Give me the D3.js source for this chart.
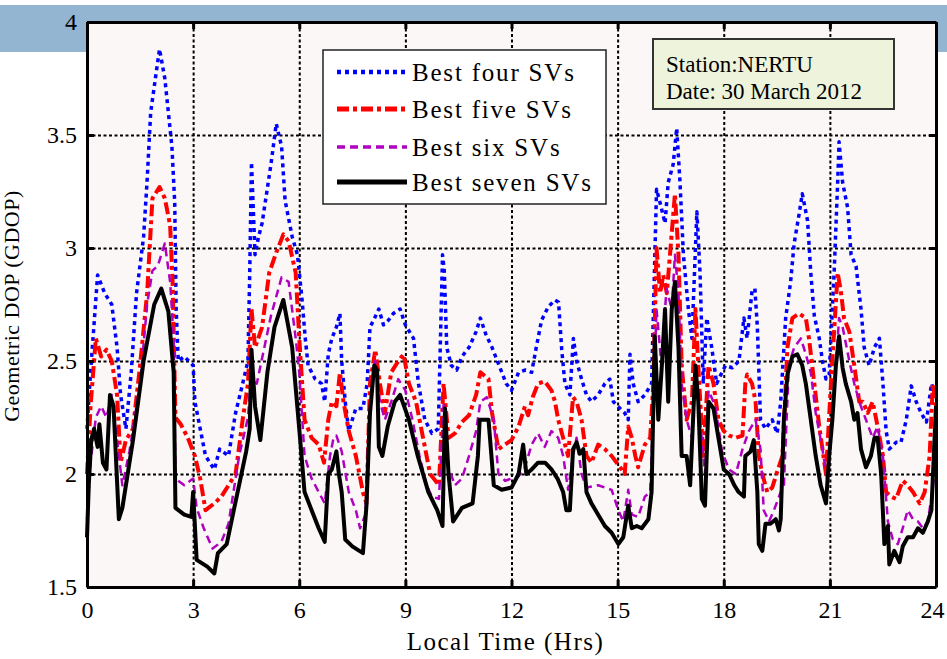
<!DOCTYPE html>
<html>
<head>
<meta charset="utf-8">
<script src="https://cdn.jsdelivr.net/npm/d3@7"></script>
<style>
  body { margin: 0; background: #fff; }
  text { font-family: "Liberation Serif", "Times New Roman", serif; fill: #000; }
</style>
</head>
<body>
<div id="chart"></div>
<script>
// tick labels
const xTicks = [0, 3, 6, 9, 12, 15, 18, 21, 24]
const yTicks = [1.5, 2, 2.5, 3, 3.5, 4]

const seriesNames = ["Best four SVs", "Best five SVs", "Best six SVs", "Best seven SVs"]

// [hour, GDOP]
const fourSV = [
  [0, 2.2], [0.1, 2.45], [0.3, 2.88], [0.5, 2.8], [0.7, 2.75], [0.85, 2.56], [0.95, 2.35], [1.1, 2.2],
  [1.25, 2.45], [1.4, 2.8], [1.6, 3.05], [1.7, 3.3], [1.8, 3.6], [1.95, 3.77], [2.05, 3.88], [2.2, 3.75],
  [2.3, 3.6], [2.4, 3.45], [2.48, 3.2], [2.52, 2.73], [2.58, 2.5], [2.75, 2.52], [3.0, 2.48], [3.05, 2.32],
  [3.2, 2.2], [3.35, 2.08], [3.6, 2.02], [3.75, 2.11], [4.0, 2.08], [4.2, 2.27], [4.4, 2.4], [4.55, 2.5],
  [4.6, 2.89], [4.65, 3.38], [4.75, 2.97], [4.85, 3.05], [4.95, 3.11], [5.2, 3.37], [5.35, 3.55], [5.5, 3.45],
  [5.6, 3.21], [5.8, 3.05], [5.95, 2.97], [6.08, 2.77], [6.17, 2.6], [6.25, 2.48], [6.45, 2.42], [6.63, 2.4],
  [6.72, 2.32], [6.82, 2.53], [6.92, 2.6], [7.05, 2.65], [7.15, 2.71], [7.2, 2.5], [7.3, 2.32], [7.4, 2.19],
  [7.5, 2.24], [7.6, 2.29], [7.8, 2.29], [7.92, 2.4], [8.0, 2.65], [8.1, 2.68], [8.25, 2.73], [8.38, 2.66],
  [8.52, 2.68], [8.66, 2.71], [8.85, 2.73], [9.0, 2.66], [9.23, 2.6], [9.37, 2.4], [9.55, 2.24], [9.75, 2.18],
  [9.93, 2.2], [10.05, 2.97], [10.1, 2.9], [10.17, 2.56], [10.3, 2.48], [10.45, 2.46], [10.6, 2.52], [10.8, 2.56],
  [11.0, 2.63], [11.12, 2.69], [11.27, 2.62], [11.45, 2.56], [11.65, 2.48], [11.85, 2.4], [12.0, 2.37],
  [12.2, 2.45], [12.4, 2.46], [12.57, 2.45], [12.7, 2.56], [12.85, 2.68], [13.04, 2.74], [13.23, 2.77],
  [13.33, 2.76], [13.42, 2.55], [13.51, 2.4], [13.65, 2.35], [13.75, 2.6], [13.84, 2.5], [13.98, 2.42],
  [14.12, 2.35], [14.26, 2.32], [14.45, 2.35], [14.64, 2.4], [14.78, 2.42], [14.88, 2.32], [15.07, 2.29],
  [15.2, 2.27], [15.3, 2.24], [15.35, 2.53], [15.44, 2.4], [15.58, 2.32], [15.77, 2.35], [15.96, 2.4],
  [16.1, 3.26], [16.2, 3.2], [16.34, 3.11], [16.43, 3.29], [16.57, 3.37], [16.67, 3.53], [16.76, 3.3],
  [16.86, 2.97], [17.0, 2.73], [17.1, 2.6], [17.24, 3.16], [17.33, 2.89], [17.42, 2.4], [17.52, 2.69],
  [17.66, 2.56], [17.8, 2.4], [17.95, 2.45], [18.05, 2.48], [18.24, 2.47], [18.43, 2.5], [18.57, 2.69],
  [18.66, 2.6], [18.8, 2.81], [18.88, 2.82], [18.95, 2.65], [19.04, 2.24], [19.18, 2.2], [19.37, 2.24],
  [19.51, 2.18], [19.61, 2.32], [19.75, 2.69], [19.89, 2.85], [19.99, 3.02], [20.13, 3.15], [20.22, 3.24],
  [20.37, 3.12], [20.46, 2.89], [20.56, 2.7], [20.7, 2.6], [20.79, 2.5], [20.89, 2.42], [20.98, 2.44],
  [21.12, 2.89], [21.22, 3.29], [21.26, 3.47], [21.36, 3.29], [21.5, 3.18], [21.6, 2.97], [21.74, 2.92],
  [21.88, 2.73], [21.97, 2.56], [22.11, 2.48], [22.26, 2.56], [22.4, 2.6], [22.5, 2.4], [22.59, 2.19],
  [22.68, 2.11], [22.87, 2.14], [23.01, 2.14], [23.16, 2.24], [23.3, 2.39], [23.44, 2.32], [23.58, 2.27],
  [23.73, 2.23], [23.87, 2.4], [24.0, 2.35]
]

const fiveSV = [
  [0, 2.0], [0.1, 2.3], [0.25, 2.6], [0.4, 2.52], [0.55, 2.55], [0.7, 2.5], [0.85, 2.35], [0.95, 2.05],
  [1.1, 2.15], [1.3, 2.2], [1.5, 2.48], [1.7, 2.8], [1.85, 3.22], [2.05, 3.27], [2.2, 3.22], [2.35, 3.1],
  [2.42, 2.85], [2.5, 2.25], [2.65, 2.22], [2.85, 2.16], [3.05, 2.08], [3.2, 1.98], [3.35, 1.84], [3.6, 1.87],
  [3.8, 1.9], [4.0, 1.95], [4.2, 2.0], [4.4, 2.24], [4.55, 2.4], [4.65, 2.73], [4.75, 2.56], [4.95, 2.65],
  [5.15, 2.89], [5.35, 2.98], [5.55, 3.06], [5.7, 3.03], [5.9, 2.89], [6.0, 2.6], [6.15, 2.24], [6.35, 2.16],
  [6.55, 2.13], [6.7, 2.05], [6.82, 2.24], [6.92, 2.32], [7.05, 2.3], [7.15, 2.45], [7.25, 2.32], [7.4, 2.19],
  [7.6, 2.08], [7.8, 1.92], [7.9, 1.87], [8.0, 2.4], [8.15, 2.55], [8.28, 2.4], [8.42, 2.27], [8.6, 2.45],
  [8.8, 2.5], [8.95, 2.53], [9.1, 2.4], [9.3, 2.32], [9.5, 2.16], [9.7, 2.0], [9.95, 1.95], [10.08, 2.4],
  [10.22, 2.16], [10.4, 2.18], [10.6, 2.23], [10.8, 2.26], [11.0, 2.35], [11.12, 2.45], [11.35, 2.42],
  [11.45, 2.27], [11.63, 2.11], [11.82, 2.13], [12.0, 2.15], [12.2, 2.21], [12.38, 2.3], [12.47, 2.26],
  [12.6, 2.34], [12.75, 2.4], [12.94, 2.41], [13.13, 2.37], [13.23, 2.32], [13.32, 2.24], [13.46, 2.16],
  [13.6, 2.08], [13.74, 2.34], [13.84, 2.32], [13.98, 2.24], [14.12, 2.08], [14.26, 2.05], [14.45, 2.13],
  [14.64, 2.11], [14.83, 2.08], [15.07, 2.03], [15.2, 2.0], [15.3, 2.21], [15.4, 2.16], [15.5, 2.08],
  [15.58, 2.03], [15.77, 2.13], [15.92, 2.16], [16.01, 2.4], [16.1, 3.0], [16.2, 2.8], [16.29, 2.88],
  [16.39, 2.8], [16.48, 2.97], [16.62, 3.24], [16.72, 2.97], [16.81, 2.48], [16.95, 2.24], [17.1, 2.32],
  [17.2, 2.73], [17.28, 2.48], [17.42, 2.08], [17.57, 2.48], [17.71, 2.4], [17.85, 2.24], [18.0, 2.19],
  [18.15, 2.17], [18.34, 2.16], [18.53, 2.17], [18.61, 2.4], [18.66, 2.44], [18.8, 2.4], [18.9, 2.32],
  [18.99, 2.08], [19.09, 2.0], [19.23, 1.92], [19.37, 1.94], [19.51, 2.01], [19.66, 2.08], [19.8, 2.56],
  [19.94, 2.69], [20.13, 2.71], [20.32, 2.69], [20.41, 2.6], [20.56, 2.4], [20.7, 2.21], [20.89, 2.0],
  [21.03, 2.4], [21.12, 2.63], [21.22, 2.89], [21.31, 2.81], [21.4, 2.69], [21.55, 2.63], [21.69, 2.48],
  [21.83, 2.32], [21.93, 2.32], [22.07, 2.27], [22.21, 2.32], [22.35, 2.21], [22.5, 2.08], [22.59, 1.92],
  [22.73, 1.9], [22.87, 1.89], [23.06, 1.97], [23.2, 1.95], [23.35, 1.92], [23.54, 1.87], [23.68, 1.92],
  [23.82, 2.08], [23.91, 2.4], [24.0, 2.3]
]

const sixSV = [
  [0, 1.8], [0.1, 2.05], [0.25, 2.25], [0.4, 2.3], [0.55, 2.25], [0.7, 2.35], [0.85, 2.15], [1.0, 1.95],
  [1.2, 2.1], [1.5, 2.4], [1.7, 2.75], [1.85, 2.9], [2.0, 2.92], [2.2, 3.02], [2.35, 2.85], [2.45, 2.6],
  [2.5, 1.98], [2.75, 1.95], [3.0, 1.98], [3.1, 1.85], [3.3, 1.76], [3.55, 1.67], [3.8, 1.7], [4.0, 1.78],
  [4.3, 2.08], [4.55, 2.25], [4.65, 2.45], [4.8, 2.4], [5.0, 2.55], [5.2, 2.7], [5.5, 2.87], [5.7, 2.85],
  [5.9, 2.6], [6.0, 2.45], [6.15, 2.08], [6.35, 1.98], [6.55, 1.92], [6.72, 1.87], [6.87, 2.08], [6.97, 2.16],
  [7.05, 2.17], [7.2, 2.1], [7.4, 1.92], [7.6, 1.84], [7.72, 1.76], [7.87, 1.82], [7.97, 2.24], [8.15, 2.5],
  [8.28, 2.32], [8.42, 2.24], [8.6, 2.32], [8.8, 2.42], [9.0, 2.37], [9.2, 2.24], [9.4, 2.08], [9.6, 1.95],
  [9.75, 1.9], [9.95, 1.89], [10.08, 2.31], [10.22, 2.03], [10.4, 1.95], [10.6, 1.98], [10.8, 2.08],
  [11.0, 2.19], [11.12, 2.32], [11.3, 2.34], [11.5, 2.24], [11.63, 2.0], [11.82, 1.97], [12.0, 1.98],
  [12.2, 1.99], [12.38, 2.03], [12.57, 2.13], [12.75, 2.18], [12.94, 2.12], [13.13, 2.19], [13.32, 2.16],
  [13.46, 2.08], [13.6, 1.93], [13.74, 2.08], [13.84, 2.16], [13.98, 2.0], [14.12, 1.94], [14.45, 1.95],
  [14.83, 1.93], [15.02, 1.84], [15.16, 1.79], [15.3, 1.93], [15.4, 1.82], [15.58, 1.81], [15.77, 1.9],
  [15.92, 1.92], [16.0, 2.24], [16.1, 2.73], [16.24, 2.48], [16.38, 2.82], [16.53, 2.73], [16.62, 2.97],
  [16.72, 2.8], [16.81, 2.4], [16.95, 2.24], [17.1, 2.16], [17.2, 2.48], [17.33, 2.24], [17.47, 2.0],
  [17.57, 2.37], [17.76, 2.3], [17.95, 2.1], [18.15, 2.02], [18.34, 2.0], [18.53, 2.11], [18.71, 2.19],
  [18.9, 2.24], [19.04, 2.11], [19.13, 1.84], [19.28, 1.79], [19.42, 1.84], [19.61, 1.92], [19.7, 1.95],
  [19.84, 2.48], [19.99, 2.56], [20.18, 2.6], [20.32, 2.53], [20.46, 2.45], [20.6, 2.27], [20.79, 2.11],
  [20.93, 1.97], [21.07, 2.24], [21.26, 2.69], [21.36, 2.65], [21.55, 2.5], [21.69, 2.4], [21.83, 2.32],
  [22.02, 2.24], [22.21, 2.16], [22.35, 2.21], [22.5, 2.08], [22.64, 1.79], [22.78, 1.71], [22.92, 1.69],
  [23.06, 1.76], [23.2, 1.84], [23.35, 1.8], [23.49, 1.79], [23.63, 1.76], [23.77, 1.79], [23.92, 1.95],
  [24.0, 2.1]
]

const sevenSV = [
  [0, 1.72], [0.05, 1.95], [0.12, 2.15], [0.2, 2.2], [0.3, 2.12], [0.35, 2.22], [0.45, 2.05], [0.55, 2.02],
  [0.65, 2.35], [0.75, 2.3], [0.9, 1.8], [1.0, 1.85], [1.3, 2.15], [1.6, 2.5], [1.9, 2.75], [2.1, 2.82],
  [2.3, 2.72], [2.45, 2.45], [2.5, 1.85], [2.75, 1.82], [2.95, 1.81], [3.0, 1.92], [3.1, 1.62], [3.4, 1.59],
  [3.6, 1.56], [3.7, 1.65], [3.95, 1.69], [4.15, 1.84], [4.5, 2.1], [4.6, 2.2], [4.65, 2.55], [4.75, 2.3],
  [4.9, 2.15], [5.1, 2.45], [5.3, 2.65], [5.55, 2.77], [5.8, 2.56], [6.0, 2.2], [6.15, 1.92], [6.35, 1.84],
  [6.55, 1.76], [6.72, 1.7], [6.82, 2.0], [6.92, 2.02], [7.05, 2.1], [7.12, 2.0], [7.2, 1.92], [7.3, 1.71],
  [7.5, 1.68], [7.8, 1.65], [7.9, 1.86], [8.0, 2.27], [8.12, 2.48], [8.2, 2.46], [8.25, 2.12], [8.35, 2.08],
  [8.5, 2.21], [8.7, 2.32], [8.85, 2.35], [9.1, 2.24], [9.35, 2.08], [9.65, 1.92], [9.9, 1.84], [10.05, 1.77],
  [10.12, 2.29], [10.22, 2.0], [10.35, 1.79], [10.6, 1.85], [10.9, 1.87], [11.05, 2.08], [11.1, 2.24],
  [11.35, 2.24], [11.5, 1.95], [11.72, 1.93], [12.0, 1.94], [12.2, 2.0], [12.33, 2.13], [12.42, 2.0],
  [12.57, 2.02], [12.75, 2.05], [12.95, 2.05], [13.13, 2.02], [13.3, 1.98], [13.46, 1.92], [13.55, 1.84],
  [13.65, 1.84], [13.74, 2.11], [13.84, 2.14], [13.93, 2.09], [14.03, 2.11], [14.12, 1.92], [14.26, 1.87],
  [14.45, 1.82], [14.64, 1.77], [14.83, 1.74], [15.02, 1.69], [15.16, 1.72], [15.3, 1.86], [15.4, 1.76],
  [15.54, 1.77], [15.68, 1.76], [15.87, 1.8], [15.96, 1.92], [16.05, 2.61], [16.15, 2.24], [16.25, 2.48],
  [16.34, 2.73], [16.43, 2.32], [16.53, 2.73], [16.62, 2.85], [16.72, 2.56], [16.81, 2.08], [16.95, 2.08],
  [17.05, 1.95], [17.2, 2.48], [17.28, 2.32], [17.38, 1.89], [17.47, 1.86], [17.57, 2.32], [17.71, 2.29],
  [17.85, 2.16], [18.0, 2.02], [18.15, 2.0], [18.3, 1.95], [18.42, 1.92], [18.57, 1.9], [18.61, 2.08],
  [18.76, 2.1], [18.85, 2.15], [18.95, 1.92], [18.99, 1.69], [19.09, 1.66], [19.18, 1.78], [19.32, 1.78],
  [19.47, 1.8], [19.56, 1.75], [19.61, 1.8], [19.7, 2.24], [19.8, 2.44], [19.94, 2.52], [20.08, 2.53],
  [20.22, 2.48], [20.32, 2.4], [20.46, 2.24], [20.6, 2.08], [20.74, 1.95], [20.89, 1.87], [20.98, 2.08],
  [21.07, 2.24], [21.17, 2.48], [21.26, 2.61], [21.36, 2.47], [21.45, 2.4], [21.6, 2.32], [21.69, 2.24],
  [21.78, 2.27], [21.88, 2.11], [22.02, 2.03], [22.16, 2.08], [22.26, 2.16], [22.35, 2.16], [22.45, 2.0],
  [22.54, 1.69], [22.64, 1.77], [22.68, 1.6], [22.82, 1.66], [22.97, 1.61], [23.06, 1.68], [23.2, 1.72],
  [23.35, 1.72], [23.49, 1.76], [23.63, 1.74], [23.77, 1.79], [23.87, 1.84], [23.96, 2.16], [24.0, 2.3]
]

const draw = () => {
    const width = 947
    const height = 659
    const margin = { top: 22, right: 11, bottom: 72, left: 87 }
    const innerW = width - margin.left - margin.right
    const innerH = height - margin.top - margin.bottom

    const svg = d3.select('#chart').append('svg')
        .attr('width', width)
        .attr('height', height)

    // blue strip behind the top of the figure
    svg.append('rect').attr('x', 0).attr('y', 5).attr('width', width).attr('height', 47)
        .attr('fill', '#93b5d1')

    const g = svg.append('g').attr('transform', `translate(${margin.left},${margin.top})`)

    const x = d3.scaleLinear().domain([0, 24]).range([0, innerW])
    const y = d3.scaleLinear().domain([1.5, 4]).range([innerH, 0])

    g.append('rect').attr('width', innerW).attr('height', innerH).attr('fill', '#faf7f6')

    // grid
    const grid = g.append('g')
    grid.append('g').attr('transform', `translate(0,${innerH})`)
        .call(d3.axisBottom(x).tickValues(xTicks).tickSize(-innerH).tickFormat(''))
    grid.append('g')
        .call(d3.axisLeft(y).tickValues(yTicks).tickSize(-innerW).tickFormat(''))
    grid.selectAll('.domain').remove()
    grid.selectAll('line').attr('stroke', '#000').attr('stroke-width', 2).attr('stroke-dasharray', '3,2.5')

    // series
    const line = d3.line().x(d => x(d[0])).y(d => y(d[1]))
    const styles = [
        { data: fourSV, color: '#0000ff', w: 3.5, dash: '4,4' },
        { data: fiveSV, color: '#ff0000', w: 4, dash: '12,4,4,4' },
        { data: sixSV, color: '#b000c0', w: 2.5, dash: '8,5' },
        { data: sevenSV, color: '#000000', w: 4, dash: null }
    ]
    styles.forEach(s => {
        g.append('path').datum(s.data)
            .attr('d', line)
            .attr('fill', 'none')
            .attr('stroke', s.color)
            .attr('stroke-width', s.w)
            .attr('stroke-linejoin', 'round')
            .attr('stroke-dasharray', s.dash)
    })

    // axes with inward ticks
    const xAxis = g.append('g').attr('transform', `translate(0,${innerH})`)
        .call(d3.axisBottom(x).tickValues(xTicks).tickSizeInner(-7).tickSizeOuter(0).tickPadding(14))
    const xTop = g.append('g')
        .call(d3.axisTop(x).tickValues(xTicks).tickSizeInner(-7).tickSizeOuter(0).tickFormat(''))
    const yAxis = g.append('g')
        .call(d3.axisLeft(y).tickValues(yTicks).tickSizeInner(-7).tickSizeOuter(0).tickPadding(10)
            .tickFormat(d => d))
    const yRight = g.append('g').attr('transform', `translate(${innerW},0)`)
        .call(d3.axisRight(y).tickValues(yTicks).tickSizeInner(-7).tickSizeOuter(0).tickFormat(''))
    ;[xAxis, xTop, yAxis, yRight].forEach(a => {
        a.selectAll('.domain').attr('stroke', '#000').attr('stroke-width', 3)
        a.selectAll('line').attr('stroke', '#000').attr('stroke-width', 3)
        a.selectAll('text').attr('font-family', '"Liberation Serif", serif').attr('font-size', 24)
    })
    // keep the last hour label inside the page
    xAxis.selectAll('text').filter(d => d === 24).attr('dx', -4)

    // axis titles
    svg.append('text')
        .attr('x', margin.left + innerW / 2 - 6).attr('y', 650)
        .attr('text-anchor', 'middle').attr('font-size', 25).attr('letter-spacing', 1.5)
        .text('Local Time (Hrs)')
    svg.append('text')
        .attr('transform', 'translate(19,306) rotate(-90)')
        .attr('text-anchor', 'middle').attr('font-size', 22).attr('letter-spacing', 0.5)
        .text('Geometric DOP (GDOP)')

    // legend
    const lg = svg.append('g')
    lg.append('rect').attr('x', 323).attr('y', 50).attr('width', 283).attr('height', 154)
        .attr('fill', '#ffffff').attr('stroke', '#222').attr('stroke-width', 1.5)
    const rowsY = [72, 109, 147, 182]
    styles.forEach((s, i) => {
        lg.append('line').attr('x1', 337).attr('x2', 407).attr('y1', rowsY[i]).attr('y2', rowsY[i])
            .attr('stroke', s.color).attr('stroke-width', s.w + 1).attr('stroke-dasharray', s.dash)
        lg.append('text').attr('x', 412).attr('y', rowsY[i]).attr('dy', '0.35em')
            .attr('font-size', 25).attr('letter-spacing', 1.8)
            .text(seriesNames[i])
    })

    // station box
    const sb = svg.append('g')
    sb.append('rect').attr('x', 653).attr('y', 39).attr('width', 241).attr('height', 70)
        .attr('fill', '#eef3dc').attr('stroke', '#333').attr('stroke-width', 2)
    sb.append('text').attr('x', 666).attr('y', 72).attr('font-size', 23).text('Station:NERTU')
    sb.append('text').attr('x', 666).attr('y', 99).attr('font-size', 23).text('Date: 30 March 2012')
}

draw()
</script>
</body>
</html>
